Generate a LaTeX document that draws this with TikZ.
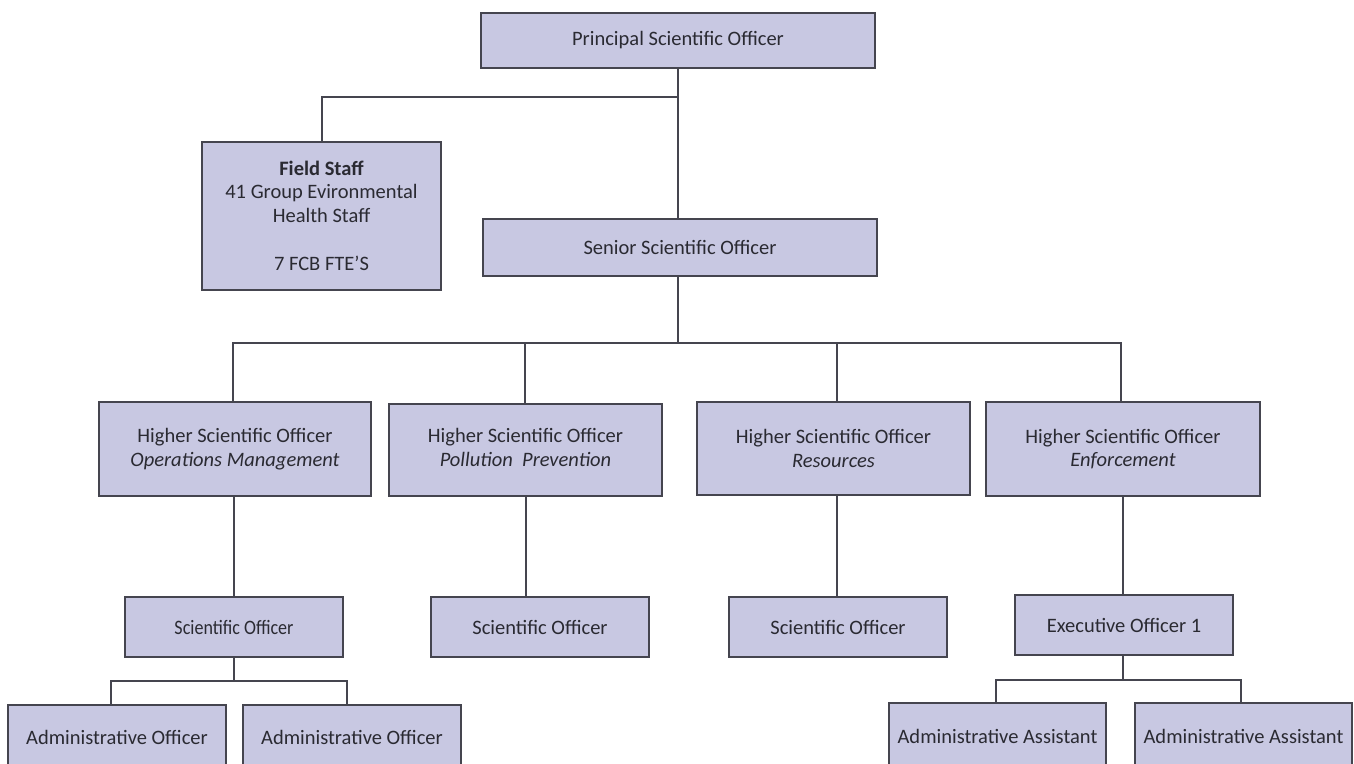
\documentclass[tikz,border=0pt]{standalone}
\usepackage{fontspec}
\setmainfont{Carlito}
\definecolor{boxfill}{HTML}{C8C8E2}
\definecolor{edge}{HTML}{45454F}
\definecolor{txt}{HTML}{2A2A32}
\begin{document}
\begin{tikzpicture}[x=1pt,y=-1pt,
  orgbox/.style={draw=edge, line width=1.3pt, fill=boxfill, text=txt, inner sep=0pt,
    align=center, font=\fontsize{20.5}{23.5}\selectfont},
  link/.style={draw=edge, line width=1.3pt}]
\useasboundingbox (0,0) rectangle (1354,763);
\clip (0,0) rectangle (1354,763);

% coordinates of junctions
\coordinate (j0) at (678,97);
\coordinate (j1) at (678,343);
\coordinate (j2) at (234,681);
\coordinate (j3) at (1123,680);

% connectors
\draw[link] (678,68) -- (678,219);
\draw[link] (j0) -| (322,142);
\draw[link] (678,276) -- (j1);
\draw[link] (233,402) |- (j1) -| (1121,402);
\draw[link] (j1) -| (525,404);
\draw[link] (j1) -| (837,402);
\draw[link] (234,496) -- (234,597);
\draw[link] (526,496) -- (526,597);
\draw[link] (837,495) -- (837,597);
\draw[link] (1123,496) -- (1123,595);
\draw[link] (234,657) -- (j2);
\draw[link] (111,705) |- (j2) -| (347,705);
\draw[link] (1123,655) -- (j3);
\draw[link] (996,703) |- (j3) -| (1241,703);

% boxes
\node[orgbox, minimum width=394pt, minimum height=55pt] (P) at (678,40.5) {Principal Scientific Officer};
\node[orgbox, minimum width=239pt, minimum height=148pt] (FS) at (321.5,216)
  {\textbf{Field Staff}\\41 Group Evironmental\\Health Staff\\[25pt]7 FCB FTE’S};
\node[orgbox, minimum width=394pt, minimum height=57pt] (S) at (680,247.5) {Senior Scientific Officer};

\node[orgbox, minimum width=272pt, minimum height=94pt] (H1) at (235,449)
  {Higher Scientific Officer\\\textit{Operations Management}};
\node[orgbox, minimum width=273pt, minimum height=92pt] (H2) at (525.5,450)
  {\raisebox{4pt}{\begin{tabular}{@{}c@{}}Higher Scientific Officer\\\textit{Pollution~ Prevention}\end{tabular}}};
\node[orgbox, minimum width=273pt, minimum height=93pt] (H3) at (833.5,448.5)
  {Higher Scientific Officer\\\textit{Resources}};
\node[orgbox, minimum width=274pt, minimum height=94pt] (H4) at (1123,449)
  {Higher Scientific Officer\\\textit{Enforcement}};

\node[orgbox, minimum width=218pt, minimum height=60pt] (SO1) at (234,627) {\scalebox{0.88}[1]{Scientific Officer}};
\node[orgbox, minimum width=218pt, minimum height=60pt] (SO2) at (540,627) {Scientific Officer};
\node[orgbox, minimum width=218pt, minimum height=60pt] (SO3) at (838,627) {Scientific Officer};
\node[orgbox, minimum width=218pt, minimum height=60pt] (EO) at (1124,625) {Executive Officer 1};

\node[orgbox, minimum width=218pt, minimum height=65pt] (A1) at (117,737.5) {Administrative Officer};
\node[orgbox, minimum width=218pt, minimum height=65pt] (A2) at (352,737.5) {Administrative Officer};
\node[orgbox, minimum width=217pt, minimum height=67pt] (AA1) at (997.5,736.5) {Administrative Assistant};
\node[orgbox, minimum width=217pt, minimum height=67pt] (AA2) at (1243.5,736.5) {Administrative Assistant};
\end{tikzpicture}
\end{document}
